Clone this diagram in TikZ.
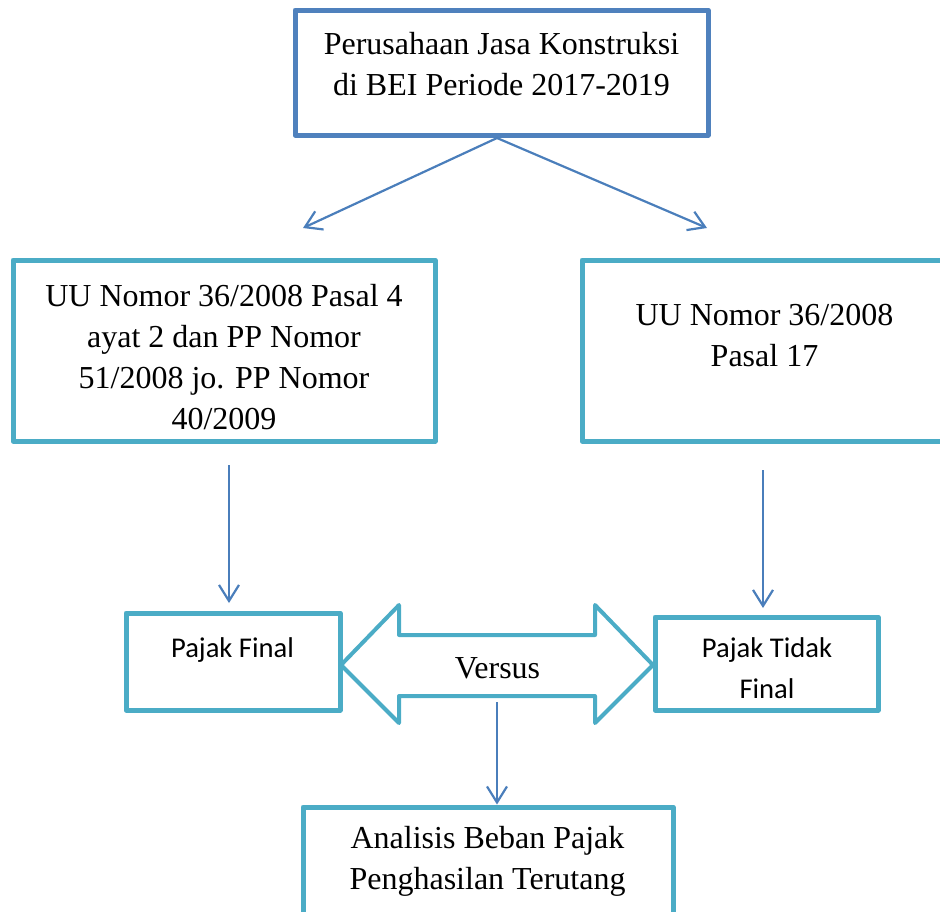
\documentclass[tikz,border=0pt]{standalone}
\usepackage{fontspec}
\setmainfont{Liberation Serif}
\newfontfamily\calibrifont{Carlito}
\usetikzlibrary{arrows.meta,fit}
\definecolor{boxblue}{HTML}{4F81BD}
\definecolor{boxteal}{HTML}{4BACC6}
\definecolor{linkblue}{HTML}{4A7EBB}

\begin{document}
\begin{tikzpicture}[x=0.5pt,y=-0.5pt,
        box/.style={draw=boxteal, line width=2.5pt, inner sep=0pt, line join=round},
        topbox/.style={box, draw=boxblue},
        serif/.style={font=\fontsize{16}{20.5}\selectfont, align=center, inner sep=0pt},
        sans/.style={font=\calibrifont\fontsize{14.3}{20.3}\selectfont, align=center, inner sep=0pt},
        link/.style={draw=linkblue, line width=1.1pt, -{Straight Barb[length=8pt,width=10pt]}}]
    \useasboundingbox (0,0) rectangle (940,911);
    \clip (0,0) rectangle (940,911);
    % boxes
    \node[topbox, fit={(295,10) (708,135)}] (perusahaan) {};
    \node[box, fit={(13,260) (435,441)}] (uuleft) {};
    \node[box, fit={(582,260) (947,441)}] (uuright) {};
    \node[box, fit={(126,613) (340,710)}] (final) {};
    \node[box, fit={(655,617) (878,710)}] (tidakfinal) {};
    \node[box, fit={(303,807) (673,960)}] (analisis) {};
    % versus arrow
    \draw[draw=boxteal, line width=2pt, line join=round]
        (341,665) -- (399,605) -- (399,635) -- (595,635) -- (595,605) -- (653,665)
        -- (595,723) -- (595,696) -- (399,696) -- (399,723) -- cycle;
    % texts
    \node[serif] (perusahaan-txt) at (501.5,64) {Perusahaan Jasa Konstruksi\\di BEI Periode 2017-2019};
    \node[serif] (uuleft-txt) at (224,357.5) {UU Nomor 36/2008 Pasal 4\\ayat 2 dan PP Nomor\\51/2008 jo. PP Nomor\\40/2009};
    \node[serif] (uuright-txt) at (764.5,336) {UU Nomor 36/2008\\Pasal 17};
    \node[sans] (final-txt) at (232.5,650) {Pajak Final};
    \node[sans] (tidakfinal-txt) at (767,668) {Pajak Tidak\\Final};
    \node[serif] (versus-txt) at (497.5,668.5) {Versus};
    \node[serif] (analisis-txt) at (487.5,861) {Analisis Beban Pajak\\Penghasilan Terutang};
    % connectors
    \coordinate (split) at (497,138);
    \coordinate (leftend) at (303,228);
    \coordinate (rightend) at (707,228);
    \coordinate (leftdown) at (229,465);
    \coordinate (leftstop) at (229,603);
    \coordinate (rightdown) at (763,470);
    \coordinate (rightstop) at (763,608);
    \coordinate (vsdown) at (497,702);
    \draw[link] (split) -- (leftend);
    \draw[link] (split) -- (rightend);
    \draw[link] (leftdown) -- (leftstop);
    \draw[link] (rightdown) -- (rightstop);
    \draw[link] (vsdown) -- (vsdown |- analisis.north);
\end{tikzpicture}
\end{document}
